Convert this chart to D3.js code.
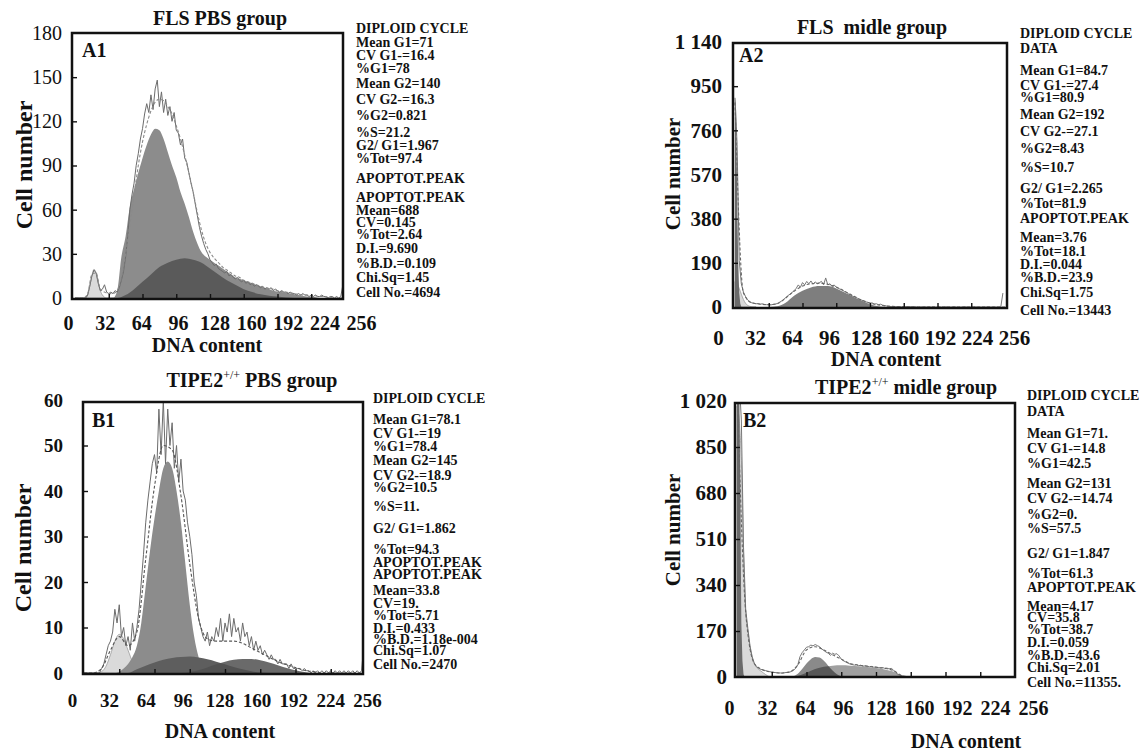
<!DOCTYPE html>
<html><head><meta charset="utf-8">
<script src="https://cdn.jsdelivr.net/npm/d3@7"></script>
<style>
html,body{margin:0;padding:0;background:#fff;}
svg{display:block;}
</style></head><body>
<script>
// ===================== DATA =====================
const xTickValues = [0,32,64,96,128,160,192,224,256];
const innerXTicks = [32,64,96,128,160,192,224];

// ---- A1: FLS PBS group ----
const a1Title = ["FLS PBS group"];
const a1Label = "A1";
const a1YTicks = [0,30,60,90,120,150,180];
const a1Raw = [ // step 2 channels
 0,0,0,0,0,0,2,8,15,19,17,10,5,6,9,4,
 3,4,3,5,4,7,12,18,28,42,60,70,78,90,98,108,
 115,125,132,126,138,128,142,148,130,140,126,135,124,130,120,126,
 114,112,104,108,95,92,85,78,72,64,56,48,42,37,33,30,
 26,24,22,23,20,19,18,17,18,15,16,14,13,14,12,11,
 12,10,11,9,10,8,9,8,7,8,6,7,6,7,5,6,
 5,4,5,4,4,3,4,3,3,2,3,2,3,2,2,1,
 2,1,2,1,1,2,1,1,0,1,1,0,1,0,1,9];
const a1Fit = [ // step 4
 0,0,0,3,16,17,6,4,3,3,
 5,14,30,50,70,90,106,118,127,133,
 135,134,130,125,117,108,97,85,72,58,
 46,37,31,27,24,21,19,17,15,14,
 12,11,10,9,8,7,6.5,6,5,4.5,
 4,3.5,3,2.5,2,2,1.5,1.5,1,1,
 0.5,0.5,0,0,0];
const a1G = [ // step 4: G1 + G2 envelope
 0,0,0,0,0,0,0,0,0,0,
 5,28,42,62,74,85,95,104,111,115,114,108,99,90,82,72,64,55,45,37,31,28,26,24,22,20,18,16,14,13,12,11,10,9,8,7,6,5,4.5,4,3.5,3,2.5,2,1.5,1,1,0.5,
 0,0,0,0,0,0,0];
const a1S = [ // step 8
 0,0,0,0,0,0,2,6,11,16,21,24,26,27,26,24,20,16,12,9,6,4,2.5,1.5,1,0.3,0,0,0,0,0,0,0];
const a1Apo = [ // step 2
 0,0,0,0,0,0,2,8,15,19.5,17,11,5,2,0.5,0,0,0,0,0,0];
const a1Stats = ["DIPLOID CYCLE","Mean G1=71","CV G1-=16.4","%G1=78","Mean G2=140","CV G2-=16.3","%G2=0.821","%S=21.2","G2/ G1=1.967","%Tot=97.4","APOPTOT.PEAK","APOPTOT.PEAK","Mean=688","CV=0.145","%Tot=2.64","D.I.=9.690","%B.D.=0.109","Chi.Sq=1.45","Cell No.=4694"];

// ---- A2: FLS midle group ----
const a2Title = ["FLS  midle group"];
const a2Label = "A2";
const a2YTicks = [0,190,380,570,760,950,1140];
const a2Raw = [ // step 2
 900,700,200,100,64,45,30,22,18,16,14,15,12,14,11,10,
 10,9,11,12,15,20,25,32,40,48,55,62,70,80,95,85,
 105,95,110,100,112,98,108,100,105,110,96,125,95,100,88,95,
 85,80,76,72,66,62,55,50,46,42,38,32,30,26,22,20,
 16,18,12,14,10,12,8,6,4,3,2,3,2,1,2,1,
 1,2,1,1,2,1,1,0,1,0,1,0,1,0,1,0,
 0,1,0,0,1,0,0,0,1,0,0,0,0,1,0,0,
 0,0,1,0,0,0,0,0,1,0,0,0,0,0,0,60];
const a2Fit = [ // step 8
 880,60,18,12,10,14,38,68,90,100,102,98,86,68,48,30,17,9,4,2,1,0,0,0,0,0,0,0,0,0,0,0,0];
const a2Apo = [110,100,80,55,32,16,7,3,1,0,0]; // step 2
const a2Spike = [900,850,500,200,60,15,0];      // step 1
const a2G = [ // step 8
 0,0,0,0,0,3,18,48,70,84,90,90,80,62,44,28,12,3,0,0,0,0,0,0,0,0,0,0,0,0,0,0,0];
const a2Stats = ["DIPLOID CYCLE","DATA","Mean G1=84.7","CV G1-=27.4","%G1=80.9","Mean G2=192","CV G2-=27.1","%G2=8.43","%S=10.7","G2/ G1=2.265","%Tot=81.9","APOPTOT.PEAK","Mean=3.76","%Tot=18.1","D.I.=0.044","%B.D.=23.9","Chi.Sq=1.75","Cell No.=13443"];

// ---- B1: TIPE2+/+ PBS group ----
const b1Title = ["TIPE2","+/+"," PBS group"];
const b1Label = "B1";
const b1YTicks = [0,10,20,30,40,50,60];
const b1Raw = [ // step 2
 0,0,0,0,0,0,0,0,1,2,4,6,7,9,14,11,
 15,8,10,6,8,5,11,7,10,14,20,26,33,38,42,46,
 48,44,58,48,60,46,58,50,55,45,50,42,47,40,38,33,
 30,26,20,17,12,10,8,7,9,6,8,7,10,8,12,7,
 11,9,13,8,12,9,10,7,11,8,9,6,8,5,7,5,
 6,4,5,4,3,4,3,3,2,3,2,2,2,1,2,1,
 1,1,1,0.5,1,0.5,0.5,0,0.5,0,0.5,0,0.5,0,0.5,0,
 0.5,0,0.5,0,0.5,0,0.5,0,0.5,0,0.5,0,0.5,0,0.5,6];
const b1Fit = [ // step 8
 0,0,1,5,8,6,9,25,41,50,49,39,24,12,7.5,7,7,7,6.5,5.5,4.5,3.5,2.5,1.8,1.2,0.6,0.3,0,0,0,0,0,0];
const b1G = [ // step 4
 0,0,0,0,0,0,0,0,
 0.3,1,2,3.5,6,11,19,27,34,40,45,46.5,45,40,33,24,15,8,3.5,1.2,0.4,0,
 0,0,0,0,0,0,0,0,0,0,0,0,0,0,0,0,0,0,0,0,0,0,0,0,0,0,0,0,0,0,0,0,0,0,0];
const b1S = [ // step 8
 0,0,0,0,0,0,0.8,1.6,2.3,2.9,3.3,3.5,3.6,3.4,3.0,2.5,1.9,1.3,0.8,0.4,0.1,0,0,0,0,0,0,0,0,0,0,0,0];
const b1G2 = [ // step 8
 0,0,0,0,0,0,0,0,0,0,0,0,0.2,0.6,1.2,1.9,2.5,2.9,3.1,3.1,2.8,2.3,1.7,1.1,0.6,0.2,0,0,0,0,0,0,0];
const b1Apo = [0,0,0,0,0.3,1.5,4,7,8.5,7.5,5,2.5,1,0.3,0]; // step 4
const b1Stats = ["DIPLOID CYCLE","Mean G1=78.1","CV G1-=19","%G1=78.4","Mean G2=145","CV G2-=18.9","%G2=10.5","%S=11.","G2/ G1=1.862","%Tot=94.3","APOPTOT.PEAK","APOPTOT.PEAK","Mean=33.8","CV=19.","%Tot=5.71","D.I.=0.433","%B.D.=1.18e-004","Chi.Sq=1.07","Cell No.=2470"];

// ---- B2: TIPE2+/+ midle group ----
const b2Title = ["TIPE2","+/+"," midle group"];
const b2Label = "B2";
const b2YTicks = [0,170,340,510,680,850,1020];
const b2Raw = [ // step 2
 1100,1100,950,480,250,180,115,75,50,38,32,28,26,24,22,20,
 18,17,16,15,15,14,16,17,18,20,25,32,45,75,90,100,
 110,112,118,115,120,116,112,104,98,92,88,80,88,84,86,78,
 66,60,56,52,48,46,44,45,42,43,40,41,40,38,39,36,
 37,35,34,35,32,33,30,32,26,18,10,6,4,2,1,1,
 0,1,0,0,0,0,0,0,0,0,0,0,0,0,0,0,
 0,0,0,0,0,0,0,0,0,0,0,0,0,0,0,0,
 0,0,0,0,0,0,0,0,0,0,0,0,0,0,0,0];
const b2Fit = [ // step 8
 1100,240,50,26,18,15,18,45,100,112,100,82,66,50,44,40,36,32,24,5,0,0,0,0,0,0,0,0,0,0,0,0,0];
const b2Apo = [1000,950,800,460,240,170,110,72,48,35,28,22,16,10,5,0]; // step 2
const b2Spike = [1100,1100,1100,700,200,60,10,0,0]; // step 1
const b2G = [ // step 4
 0,0,0,0,0,0,0,0,0,0,0,0,
 0,3,12,30,50,66,74,72,60,42,24,10,3,0,
 0,0,0,0,0,0,0,0,0,0,0,0,0,0,0,0,0,0,0,0,0,0,0,0,0,0,0,0,0,0,0,0,0,0,0,0,0,0,0];
const b2S = [ // step 8
 0,0,0,0,0,0,0,4,16,30,38,42,43,42,40,37,33,28,20,6,0,0,0,0,0,0,0,0,0,0,0,0,0];
const b2Stats = ["DIPLOID CYCLE","DATA","Mean G1=71.","CV G1-=14.8","%G1=42.5","Mean G2=131","CV G2-=14.74","%G2=0.","%S=57.5","G2/ G1=1.847","%Tot=61.3","APOPTOT.PEAK","Mean=4.17","CV=35.8","%Tot=38.7","D.I.=0.059","%B.D.=43.6","Chi.Sq=2.01","Cell No.=11355."];

// ===================== LAYOUT / STYLE =====================
const FONT = '"Liberation Serif","Times New Roman",Times,serif';
const W = 1145, H = 752;
const C_LIGHT = "#dadada", C_MED = "#8c8c8c", C_DARK = "#5a5a5a";
const STAT_SIZE = 14;

const panels = [
 { title:a1Title, label:a1Label, yTicks:a1YTicks, stats:a1Stats,
   box:[72,33,343,299], xr:[75,345], yr:[298,33],
   titlePos:[220,25], titleSize:20, labelPos:[82,57],
   yPad:10, ySize:20, yWeight:"normal",
   xLab:[68,361], xLabY:330, xSize:20,
   dna:[207,352], cell:[24,165], cellSize:24,
   statsX:356, statsY:[28,42,55,68,83,99,115,132,145,158,178,197,210,222,234,248,263,277,292],
   layers:[
     {type:"area", data:a1Apo, step:2, fill:C_LIGHT, stroke:"#9a9a9a"},
     {type:"area", data:a1G, step:4, fill:C_MED},
     {type:"area", data:a1S, step:8, fill:C_DARK},
     {type:"line", data:a1Raw, step:2, stroke:"#6c6c6c", width:1},
     {type:"line", data:a1Fit, step:4, stroke:"#8a8a8a", width:1.1, dash:"3,2", smooth:true}
   ]},
 { title:a2Title, label:a2Label, yTicks:a2YTicks, stats:a2Stats,
   box:[733,43,1007,308], xr:[735,1005], yr:[307,42],
   titlePos:[872,34], titleSize:20, labelPos:[739,62],
   yPad:11, ySize:21, yWeight:"bold",
   xLab:[718,1014], xLabY:345, xSize:21,
   dna:[886,366], cell:[673,174], cellSize:21,
   statsX:1020, statsY:[33,48,70,85,97,114,131,148,167,188,203,218,237,251,264,277,292,310],
   layers:[
     {type:"area", data:a2Apo, step:2, fill:C_LIGHT, stroke:"#9a9a9a"},
     {type:"area", data:a2Spike, step:1, fill:"#6a6a6a", linear:true},
     {type:"area", data:a2G, step:8, fill:"#7e7e7e"},
     {type:"line", data:a2Raw, step:2, stroke:"#777", width:1},
     {type:"line", data:a2Fit, step:8, stroke:"#666", width:1.1, dash:"3,2", smooth:true}
   ]},
 { title:b1Title, label:b1Label, yTicks:b1YTicks, stats:b1Stats,
   box:[83,402,363,674], xr:[84,366], yr:[673,400],
   titlePos:[252,387], titleSize:20, labelPos:[92,427],
   yPad:20, ySize:19, yWeight:"bold",
   xLab:[72,367], xLabY:707, xSize:19,
   dna:[220,738], cell:[23,548], cellSize:24,
   statsX:373, statsY:[398,419,433,446,460,475,487,506,528,549,562,574,590,603,615,628,639,650,664],
   layers:[
     {type:"area", data:b1Apo, step:4, fill:C_LIGHT, stroke:"#9a9a9a"},
     {type:"area", data:b1G, step:4, fill:C_MED},
     {type:"area", data:b1S, step:8, fill:"#5e5e5e"},
     {type:"area", data:b1G2, step:8, fill:"#505050", opacity:0.85},
     {type:"line", data:b1Raw, step:2, stroke:"#6c6c6c", width:1},
     {type:"line", data:b1Fit, step:8, stroke:"#555", width:1.1, dash:"3,2", smooth:true}
   ]},
 { title:b2Title, label:b2Label, yTicks:b2YTicks, stats:b2Stats,
   box:[735,403,1015,677], xr:[737,1015], yr:[677,401],
   titlePos:[906,394], titleSize:20, labelPos:[743,427],
   yPad:8, ySize:21, yWeight:"bold",
   xLab:[729,1033], xLabY:715, xSize:20,
   dna:[966,748], cell:[673,530], cellSize:21,
   statsX:1027, statsY:[395,411,433,448,463,483,498,514,528,553,573,587,606,617,629,642,655,667,682],
   layers:[
     {type:"area", data:b2Apo, step:2, fill:C_LIGHT, stroke:"#9a9a9a"},
     {type:"area", data:b2Spike, step:1, fill:"#6a6a6a", linear:true},
     {type:"area", data:b2G, step:4, fill:"#8a8a8a"},
     {type:"area", data:b2S, step:8, fill:"#a0a0a0", blend:"multiply"},
     {type:"line", data:b2Raw, step:2, stroke:"#777", width:1},
     {type:"line", data:b2Fit, step:8, stroke:"#666", width:1.1, dash:"3,2", smooth:true}
   ]}
];

// ===================== DRAW =====================
const fmtSpace = d3.formatLocale({decimal:".", thousands:" ", grouping:[3], currency:["",""]}).format(",");
const svg = d3.select("body").append("svg").attr("width",W).attr("height",H)
  .style("font-family",FONT);
const defs = svg.append("defs");

panels.forEach((p,idx)=>{
  const g = svg.append("g");
  const x = d3.scaleLinear().domain([0,256]).range(p.xr);
  const ymax = p.yTicks[p.yTicks.length-1];
  const y = d3.scaleLinear().domain([0,ymax]).range(p.yr);
  const xl = d3.scaleLinear().domain([0,256]).range(p.xLab);
  const [bx0,by0,bx1,by1] = p.box;

  defs.append("clipPath").attr("id","clip"+idx).append("rect")
    .attr("x",bx0).attr("y",by0).attr("width",bx1-bx0).attr("height",by1-by0);
  const plot = g.append("g").attr("clip-path",`url(#clip${idx})`).style("isolation","isolate");

  p.layers.forEach(L=>{
    const pts = L.data.map((v,i)=>({c:i*L.step, v}));
    if(L.type==="area"){
      const area = d3.area().x(d=>x(d.c)).y0(y(0)).y1(d=>y(d.v))
        .curve(L.linear ? d3.curveLinear : d3.curveMonotoneX);
      plot.append("path").attr("d",area(pts)).attr("fill",L.fill)
        .attr("fill-opacity",L.opacity||1)
        .attr("stroke",L.stroke||"none").attr("stroke-width",0.8)
        .style("mix-blend-mode",L.blend||"normal");
    } else {
      const line = d3.line().x(d=>x(d.c)).y(d=>y(d.v))
        .curve(L.smooth ? d3.curveMonotoneX : d3.curveLinear);
      plot.append("path").attr("d",line(pts)).attr("fill","none")
        .attr("stroke",L.stroke).attr("stroke-width",L.width)
        .attr("stroke-dasharray",L.dash||null);
    }
  });

  // frame
  g.append("rect").attr("x",bx0).attr("y",by0).attr("width",bx1-bx0).attr("height",by1-by0)
    .attr("fill","none").attr("stroke","#111").attr("stroke-width",2.5);

  // inner ticks
  const bt = g.append("g").attr("transform",`translate(0,${by1})`)
    .call(d3.axisBottom(x).tickValues(innerXTicks).tickSizeInner(-5).tickSizeOuter(0).tickFormat(""));
  bt.select(".domain").remove();
  bt.selectAll("line").attr("stroke","#111").attr("stroke-width",1.4);
  const lt = g.append("g").attr("transform",`translate(${bx0},0)`)
    .call(d3.axisLeft(y).tickValues(p.yTicks.slice(1,-1)).tickSizeInner(-5).tickSizeOuter(0).tickFormat(""));
  lt.select(".domain").remove();
  lt.selectAll("line").attr("stroke","#111").attr("stroke-width",1.4);

  // y labels
  const ya = g.append("g").attr("transform",`translate(${bx0-p.yPad},0)`)
    .call(d3.axisLeft(y).tickValues(p.yTicks).tickSize(0).tickPadding(0).tickFormat(fmtSpace));
  ya.select(".domain").remove();
  ya.attr("font-family",FONT).attr("font-size",p.ySize);
  ya.selectAll("text").attr("fill","#111").attr("font-weight",p.yWeight);

  // x labels
  const xa = g.append("g").attr("transform",`translate(0,${p.xLabY})`)
    .call(d3.axisBottom(xl).tickValues(xTickValues).tickSize(0).tickPadding(0).tickFormat(d3.format("d")));
  xa.select(".domain").remove();
  xa.attr("font-family",FONT).attr("font-size",p.xSize);
  xa.selectAll("text").attr("y",0).attr("dy",0).attr("fill","#111").attr("font-weight","bold");

  // axis titles
  g.append("text").attr("x",p.dna[0]).attr("y",p.dna[1]).attr("text-anchor","middle")
    .attr("font-size",20).attr("font-weight","bold").attr("fill","#111").text("DNA content");
  g.append("text").attr("transform",`translate(${p.cell[0]},${p.cell[1]}) rotate(-90)`)
    .attr("text-anchor","middle").attr("dominant-baseline","central")
    .attr("font-size",p.cellSize).attr("font-weight","bold").attr("fill","#111").text("Cell number");

  // title
  const t = g.append("text").attr("x",p.titlePos[0]).attr("y",p.titlePos[1]).attr("text-anchor","middle")
    .attr("font-size",p.titleSize).attr("font-weight","bold").attr("fill","#111").style("white-space","pre");
  if(p.title.length===1){ t.text(p.title[0]); }
  else {
    t.append("tspan").text(p.title[0]);
    t.append("tspan").attr("font-size",12).attr("font-weight","normal").attr("dy",-8).text(p.title[1]);
    t.append("tspan").attr("dy",8).text(p.title[2]);
  }

  // panel label
  g.append("text").attr("x",p.labelPos[0]).attr("y",p.labelPos[1])
    .attr("font-size",20).attr("font-weight","bold").attr("fill","#111").text(p.label);

  // stats
  p.stats.forEach((s,i)=>{
    g.append("text").attr("x",p.statsX).attr("y",p.statsY[i]+5)
      .attr("font-size",STAT_SIZE).attr("font-weight","bold").attr("fill","#111").text(s);
  });
});
</script>
</body></html>
